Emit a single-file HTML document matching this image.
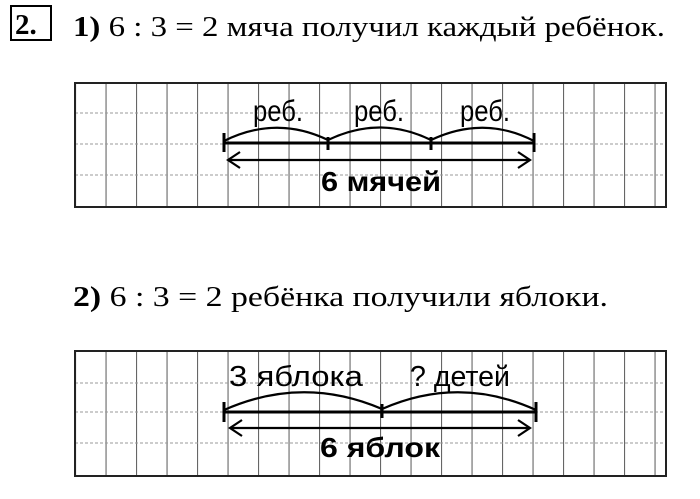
<!DOCTYPE html><html><head><meta charset="utf-8"><style>
body{margin:0;background:#fff;width:700px;height:494px;overflow:hidden}
</style></head><body>
<svg width="700" height="494" xmlns="http://www.w3.org/2000/svg">
<defs>
<pattern id="g" x="75" y="0" width="30.5" height="494" patternUnits="userSpaceOnUse">
<line x1="0.5" y1="0" x2="0.5" y2="494" stroke="#666" stroke-width="1.2"/>
</pattern>
</defs>
<rect x="11" y="6" width="40" height="34" fill="none" stroke="#000" stroke-width="2"/>
<text x="15" y="34" font-family="Liberation Serif" font-weight="bold" font-size="29">2.</text>
<text x="73" y="36" font-family="Liberation Serif" font-size="28" textLength="592" lengthAdjust="spacingAndGlyphs"><tspan font-weight="bold">1)</tspan> 6 : 3 = 2 мяча получил каждый ребёнок.</text>
<text x="73" y="306" font-family="Liberation Serif" font-size="28" textLength="535" lengthAdjust="spacingAndGlyphs"><tspan font-weight="bold">2)</tspan> 6 : 3 = 2 ребёнка получили яблоки.</text>

<!-- grid 1 -->
<rect x="75" y="83" width="591" height="124" fill="url(#g)"/>
<g stroke="#999" stroke-width="1" stroke-dasharray="3,2"><line x1="75" y1="113" x2="666" y2="113"/><line x1="75" y1="144" x2="666" y2="144"/><line x1="75" y1="175" x2="666" y2="175"/></g>
<rect x="75" y="83" width="591" height="124" fill="none" stroke="#222" stroke-width="2"/>
<g stroke="#000" stroke-width="3" fill="none">
<line x1="224" y1="143" x2="534" y2="143"/>
<line x1="224" y1="133" x2="224" y2="152"/><line x1="328" y1="137" x2="328" y2="150"/><line x1="431" y1="137" x2="431" y2="150"/><line x1="534" y1="133" x2="534" y2="152"/>
<path d="M224 141 Q276 115 328 140 Q380 115 431 140 Q484 115 534 141" stroke-width="2.2"/>
<line x1="228" y1="160" x2="530" y2="160" stroke-width="2.2"/>
<path d="M240 152 L228 160 L240 168 M518 152 L530 160 L518 168" stroke-width="2.2"/>
</g>
<g font-family="Liberation Sans" font-size="30" text-anchor="middle">
<text x="278" y="121" textLength="50" lengthAdjust="spacingAndGlyphs">реб.</text><text x="379" y="121" textLength="50" lengthAdjust="spacingAndGlyphs">реб.</text><text x="485" y="121" textLength="50" lengthAdjust="spacingAndGlyphs">реб.</text>
<text x="381" y="191" font-weight="bold" font-size="28" textLength="120" lengthAdjust="spacingAndGlyphs">6 мячей</text></g>

<!-- grid 2 -->
<rect x="75" y="351" width="591" height="125" fill="url(#g)"/>
<g stroke="#999" stroke-width="1" stroke-dasharray="3,2"><line x1="75" y1="383" x2="666" y2="383"/><line x1="75" y1="412" x2="666" y2="412"/><line x1="75" y1="443" x2="666" y2="443"/></g>
<rect x="75" y="351" width="591" height="125" fill="none" stroke="#222" stroke-width="2"/>
<g stroke="#000" stroke-width="3" fill="none">
<line x1="224" y1="412" x2="536" y2="412"/>
<line x1="224" y1="402" x2="224" y2="422"/><line x1="382" y1="404" x2="382" y2="418"/><line x1="536" y1="402" x2="536" y2="422"/>
<path d="M224 410 Q303 375 382 409 Q459 375 536 410" stroke-width="2.2"/>
<line x1="230" y1="428" x2="530" y2="428" stroke-width="2.2"/>
<path d="M242 420 L230 428 L242 436 M518 420 L530 428 L518 436" stroke-width="2.2"/>
</g>
<g font-family="Liberation Sans" font-size="29" text-anchor="middle">
<text x="296" y="386" textLength="134" lengthAdjust="spacingAndGlyphs">3 яблока</text><text x="460" y="386" textLength="100" lengthAdjust="spacingAndGlyphs">? детей</text>
<text x="380" y="457" font-weight="bold" font-size="28" textLength="120" lengthAdjust="spacingAndGlyphs">6 яблок</text></g>
</svg>
</body></html>
